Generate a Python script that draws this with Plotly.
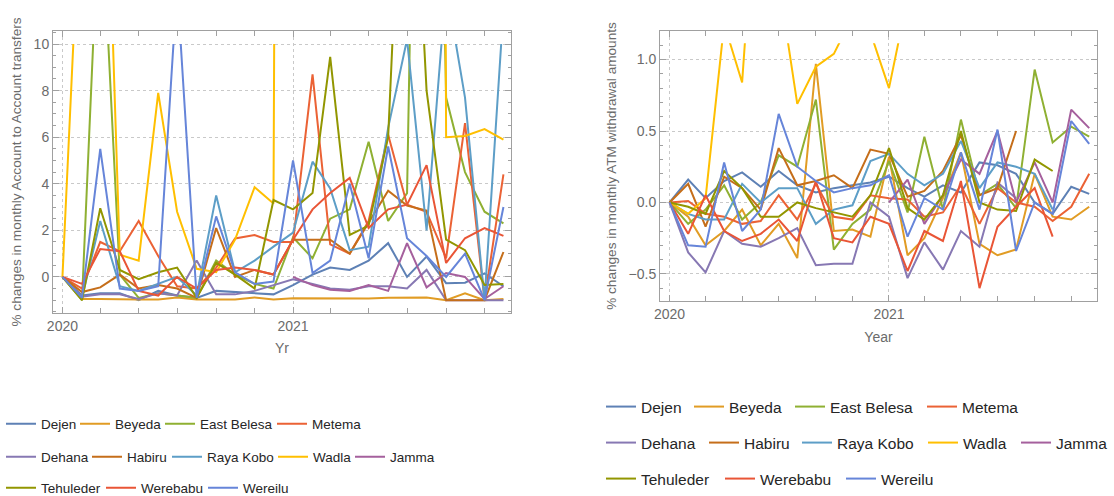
import plotly.graph_objects as go

# ---------------- data ----------------
months = [f"{y}-{m:02d}-01" for y in (2020, 2021) for m in range(1, 13)]

districts = ["Dejen", "Beyeda", "East Belesa", "Metema", "Dehana", "Habiru",
             "Raya Kobo", "Wadla", "Jamma", "Tehuleder", "Werebabu", "Wereilu"]

colors = ["#5E81B5", "#E19C24", "#8FB032", "#EB6235", "#8778B3", "#C56E1A",
          "#5D9EC7", "#FFBF00", "#A5609D", "#929600", "#E95536", "#6685D9"]

# % change in monthly Account-to-Account transfers (left panel)
dejen_a2a = [0, -0.8, -0.7, -0.7, -1.0, -0.6, -0.8, -0.9, -0.6, -0.65, -0.7, -0.75,
             -0.35, 0.1, 0.4, 0.3, 0.7, 1.45, 0.0, 0.87, -0.27, -0.25, 0.15, -0.4]
beyeda_a2a = [0, -0.95, -0.95, -0.97, -0.97, -0.97, -0.88, -0.97, -0.97, -0.97, -0.88, -0.97,
              -0.92, -0.93, -0.93, -0.93, -0.93, -0.9, -0.9, -0.88, -1.0, -0.7, -1.0, -0.95]
eastbelesa_a2a = [0, -1.0, 17, 0.1, -0.9, -0.7, -0.8, -0.9, 0.7, 0.1, -0.3, -0.5,
                  1.7, 0.8, 2.5, 2.9, 5.8, 2.4, 3.6, 50, 7.7, 4.5, 2.8, 2.3]
metema_a2a = [0, -0.5, 1.5, 1.1, 2.4, 0.9, -0.4, -0.5, 0.4, 1.65, 1.8, 1.5,
              1.5, 8.7, 1.4, 1.0, 2.4, 6.1, 3.1, 2.8, 0.8, 6.6, -1.0, 4.4]
dehana_a2a = [0, -0.85, -0.75, -0.75, -0.95, -0.7, -0.8, 0.7, -0.75, -0.75, -0.6, -0.35,
              -0.1, -0.3, -0.5, -0.55, -0.4, -0.4, -0.5, 0.3, -1.0, -1.0, -1.0, -1.0]
habiru_a2a = [0, -0.65, -0.45, 0.1, -0.5, -0.35, -0.5, -0.9, 2.1, 0.0, 0.3, 0.1,
              1.6, 1.6, 1.6, 1.0, 2.3, 3.7, 3.06, 2.85, -1.0, -1.0, -1.0, 1.07]
rayakobo_a2a = [0, -0.9, 2.4, -0.4, -0.6, -0.3, 0.0, -0.8, 3.5, 0.2, 0.7, 1.3,
                1.9, 4.95, 3.8, 1.15, 1.3, 6.4, 10.2, 2.0, 12.5, 7.7, -1.0, 11.5]
wadla_a2a = [0, 18, 27, 0.95, 0.7, 7.9, 2.8, 0.35, 0.2, 1.6, 3.85, 3.15,
             200, None, None, None, None, None, None, 200, 6.0, 6.05, 6.35, 5.9]
jamma_a2a = [None, None, None, None, None, None, None, None, None, None, None, None,
             0.0, -0.35, -0.55, -0.6, -0.35, -0.6, 1.45, -0.45, 0.17, 0.0, -0.95, -0.4]
tehuleder_a2a = [0, -1.0, 2.95, 0.3, -0.1, 0.2, 0.4, -0.9, 0.6, 0.1, -0.5, 3.3,
                 2.9, 3.6, 9.45, 1.8, 2.2, 6.0, 24, 8.0, 1.6, 1.15, -0.35, -0.3]
werebabu_a2a = [0, -0.3, 1.2, 1.1, -0.6, -0.8, 0.0, -0.5, 0.3, 0.4, 0.3, 0.1,
                1.6, 2.9, 3.6, 4.25, 2.1, 2.9, 3.1, 4.8, 0.6, 1.66, 2.1, 1.76]
wereilu_a2a = [0, -0.9, 5.5, -0.5, -0.6, -0.4, 12.5, -0.9, 2.6, 0.2, -0.3, -0.2,
               5.0, 0.17, 0.7, 4.0, 0.8, 5.6, 1.66, 0.9, 0.0, 1.0, -1.0, 3.0]

# % change in monthly ATM withdrawal amounts (right panel)
dejen_atm = [0, 0.16, 0.03, 0.15, 0.21, 0.11, 0.22, 0.12, 0.07, 0.1, 0.12, 0.14,
             0.18, 0.1, 0.04, 0.12, 0.07, 0.28, 0.26, 0.2, 0.0, -0.08, 0.11, 0.06]
beyeda_atm = [0, -0.1, -0.3, -0.2, -0.05, -0.3, -0.15, -0.39, 0.97, -0.2, -0.19, -0.24,
              0.32, -0.37, -0.25, 0.03, 0.35, -0.29, -0.37, -0.33, 0.2, -0.1, -0.12, -0.03]
eastbelesa_atm = [0, -0.15, -0.05, 0.12, -0.12, 0.0, 0.33, 0.25, 0.72, -0.33, -0.15, -0.05,
                  0.29, -0.07, 0.46, -0.05, 0.58, 0.05, 0.13, -0.04, 0.93, 0.42, 0.53, 0.46]
metema_atm = [0, 0.01, -0.08, -0.1, -0.15, -0.13, 0.05, -0.12, 0.13, -0.1, -0.12, 0.05,
              0.03, 0.02, -0.1, -0.07, 0.12, -0.15, 0.1, 0.0, -0.03, -0.13, -0.03, 0.2]
dehana_atm = [0, -0.35, -0.49, -0.2, -0.29, -0.31, -0.25, -0.18, -0.44, -0.43, -0.43, 0.0,
              -0.1, -0.53, -0.28, -0.47, -0.2, -0.31, 0.14, 0.03, None, None, None, None]
habiru_atm = [0, 0.13, -0.17, 0.18, 0.1, -0.05, 0.38, 0.12, 0.15, 0.19, 0.1, 0.37,
              0.34, 0.04, 0.08, 0.22, 0.47, 0.05, 0.1, 0.5, None, None, None, None]
rayakobo_atm = [0, -0.08, -0.12, -0.12, 0.13, 0.0, 0.1, 0.1, -0.15, -0.05, -0.02, 0.29,
                0.34, 0.2, 0.12, 0.2, 0.43, 0.1, 0.28, 0.25, 0.2, -0.05, None, None]
wadla_atm = [0, -0.08, 0.03, 1.25, 0.84, 2.7, 1.55, 0.69, 0.95, 1.04, 1.3, 1.19,
             0.8, 1.43, None, None, None, None, None, None, None, None, None, None]
jamma_atm = [None, None, None, None, None, None, None, None, None, None, None, None,
             0.0, 0.16, -0.15, 0.05, 0.3, 0.2, 0.5, 0.0, 0.28, 0.0, 0.65, 0.52]
tehuleder_atm = [0, -0.03, -0.08, 0.22, 0.1, -0.1, -0.1, 0.0, -0.04, -0.07, -0.1, 0.05,
                 0.38, -0.04, -0.12, 0.05, 0.5, 0.0, -0.05, -0.06, 0.3, 0.22, None, None]
werebabu_atm = [0, -0.22, 0.05, -0.2, -0.27, -0.22, -0.12, -0.27, 0.15, -0.25, -0.28, -0.1,
                -0.15, -0.48, -0.2, -0.27, 0.15, -0.6, -0.17, -0.03, 0.1, -0.24, None, None]
wereilu_atm = [0, -0.3, -0.31, 0.28, -0.2, -0.05, 0.62, 0.25, 0.15, 0.07, 0.1, 0.12,
               0.19, -0.24, 0.03, -0.05, 0.35, -0.05, 0.51, -0.34, 0.0, -0.08, 0.57, 0.41]

a2a_series = [dejen_a2a, beyeda_a2a, eastbelesa_a2a, metema_a2a, dehana_a2a, habiru_a2a,
              rayakobo_a2a, wadla_a2a, jamma_a2a, tehuleder_a2a, werebabu_a2a, wereilu_a2a]
atm_series = [dejen_atm, beyeda_atm, eastbelesa_atm, metema_atm, dehana_atm, habiru_atm,
              rayakobo_atm, wadla_atm, jamma_atm, tehuleder_atm, werebabu_atm, wereilu_atm]

# ---------------- layout geometry ----------------
W, H = 1114, 496
FONT = "Liberation Sans, Arial, sans-serif"
GRAY = "#6b6b6b"
FRAME = "#a0a0a0"
GRID = "#c9c9c9"

# left panel
lx = [53 / W, 511 / W]
ly = [1 - 313 / H, 1 - 31 / H]
l_yr = [-1.55, 10.56]
l_clip = 10.0
l_xr = ["2019-12-17", "2021-12-13"]
# right panel
rx = [660 / W, 1097 / W]
ry = [1 - 301 / H, 1 - 31 / H]
r_yr = [-0.69, 1.2]
r_clip = 1.115
r_xr = ["2019-12-16", "2021-12-14"]

# legend entry positions (pixel x of the line sample start, pixel y of row centre)
left_leg_x = [14, 88, 173, 285, 14, 100, 180, 286, 363, 14, 114, 216]
left_leg_y = [424] * 4 + [457] * 5 + [488] * 3
right_leg_x = [611, 699, 800, 932, 611, 714, 807, 933, 1026, 611, 730, 851]
right_leg_y = [407] * 4 + [443] * 5 + [479] * 3


def clip_top(dom, rng, clip):
    return dom[0] + (dom[1] - dom[0]) * (clip - rng[0]) / (rng[1] - rng[0])


fig = go.Figure()

# invisible carriers so that the framed axes (grid, ticks, titles) are rendered
fig.add_trace(go.Scatter(x=months, y=a2a_series[0], mode="lines", line=dict(width=0),
                         opacity=0, showlegend=False, hoverinfo="skip", xaxis="x", yaxis="y"))
fig.add_trace(go.Scatter(x=months, y=atm_series[0], mode="lines", line=dict(width=0),
                         opacity=0, showlegend=False, hoverinfo="skip", xaxis="x2", yaxis="y2"))

legends = {}
n = 0
for panel, series, lxs, lys, offs, fsize, xa, ya in [
        ("a2a", a2a_series, left_leg_x, left_leg_y, 13, 13.5, "x3", "y3"),
        ("atm", atm_series, right_leg_x, right_leg_y, 10, 15.5, "x4", "y4")]:
    for i, name in enumerate(districts):
        n += 1
        lid = "legend" if n == 1 else f"legend{n}"
        fig.add_trace(go.Scatter(
            x=months, y=series[i], name=name, mode="lines",
            line=dict(color=colors[i], width=2), xaxis=xa, yaxis=ya,
            legend=lid, connectgaps=False))
        legends[lid] = dict(orientation="h", x=(lxs[i] - offs) / W, y=1 - lys[i] / H,
                            xanchor="left", yanchor="middle", bgcolor="rgba(0,0,0,0)",
                            borderwidth=0, itemwidth=30,
                            font=dict(family=FONT, size=fsize, color="#262626"))


def frame_x(dom, rng, anchor, title, standoff):
    return dict(domain=dom, range=rng, type="date", anchor=anchor,
                tickmode="linear", tick0="2020-01-01", dtick="M12", tickformat="%Y",
                ticks="inside", ticklen=6, tickcolor=FRAME, showline=True, linecolor=FRAME,
                linewidth=1, mirror="ticks", showgrid=True, gridcolor=GRID, griddash="dot",
                gridwidth=1, zeroline=False, fixedrange=True,
                minor=dict(tickmode="linear", tick0="2020-01-01", dtick="M2", ticks="inside",
                           ticklen=5, tickcolor=FRAME, showgrid=False),
                tickfont=dict(size=14, color=GRAY),
                title=dict(text=title, font=dict(size=14, color=GRAY), standoff=standoff))


def frame_y(dom, rng, anchor, dtick, mdtick, fmt, title, standoff):
    return dict(domain=dom, range=rng, anchor=anchor, tickmode="linear", tick0=0,
                dtick=dtick, tickformat=fmt,
                ticks="inside", ticklen=6, tickcolor=FRAME, showline=True, linecolor=FRAME,
                linewidth=1, mirror="ticks", showgrid=True, gridcolor=GRID, griddash="dot",
                gridwidth=1, zeroline=False, fixedrange=True,
                minor=dict(tickmode="linear", tick0=0, dtick=mdtick, ticks="inside",
                           ticklen=3, tickcolor=FRAME, showgrid=False),
                tickfont=dict(size=14, color=GRAY),
                title=dict(text=title, font=dict(size=13.6, color=GRAY), standoff=standoff))


def data_x(dom, rng, anchor):
    return dict(domain=dom, range=rng, type="date", anchor=anchor, visible=False,
                fixedrange=True)


def data_y(dom, rng, clip, anchor):
    return dict(domain=[dom[0], clip_top(dom, rng, clip)], range=[rng[0], clip],
                anchor=anchor, visible=False, fixedrange=True)


fig.update_layout(
    width=W, height=H, autosize=False,
    margin=dict(l=0, r=0, t=0, b=0, autoexpand=False),
    paper_bgcolor="white", plot_bgcolor="rgba(0,0,0,0)",
    font=dict(family=FONT, color=GRAY),
    showlegend=True,
    xaxis=frame_x(lx, l_xr, "y", "Yr", 10),
    yaxis=frame_y(ly, l_yr, "x", 2, 0.5, "d",
                  "% changes in monthly Account to Account transfers", 8),
    xaxis2=frame_x(rx, r_xr, "y2", "Year", 11),
    yaxis2=frame_y(ry, r_yr, "x2", 0.5, 0.1, ".1f",
                   "% changes in monthly ATM withdrawal amounts", 8),
    xaxis3=data_x(lx, l_xr, "y3"),
    yaxis3=data_y(ly, l_yr, l_clip, "x3"),
    xaxis4=data_x(rx, r_xr, "y4"),
    yaxis4=data_y(ry, r_yr, r_clip, "x4"),
    **legends,
)

fig.write_html("out.html", config={"displayModeBar": False},
               post_script="document.body.style.margin='0';")
